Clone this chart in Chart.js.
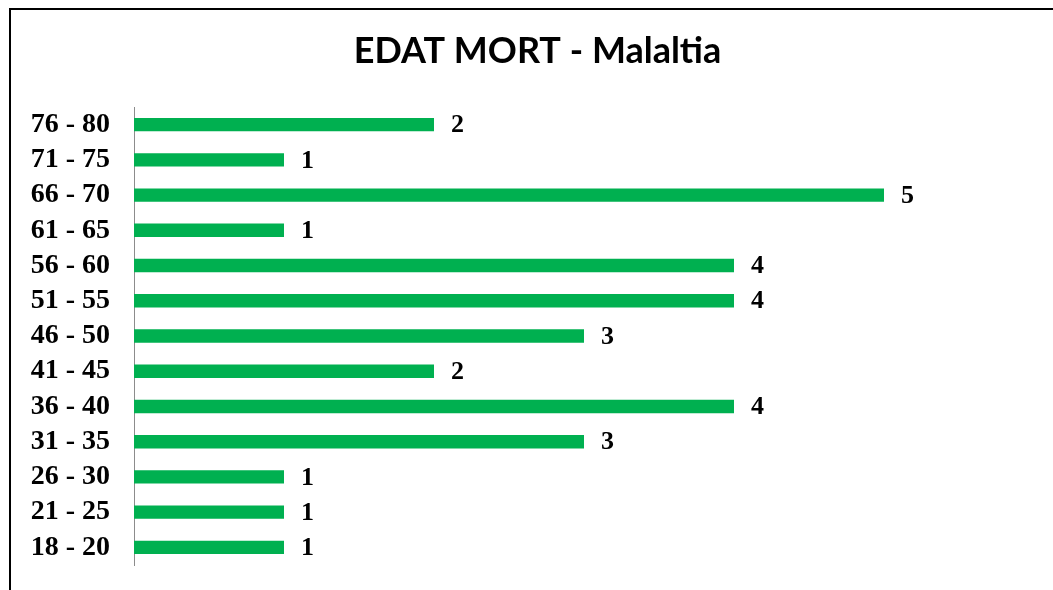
<!DOCTYPE html>
<html>
<head>
<meta charset="utf-8">
<script src="https://cdn.jsdelivr.net/npm/chart.js@4"></script>
<style>
html,body{margin:0;padding:0;background:#fff;}
#wrap{position:relative;width:1053px;height:590px;}
</style>
</head>
<body>
<div id="wrap"><canvas id="c" width="1053" height="590"></canvas></div>
<script>
const categories = ["76 - 80","71 - 75","66 - 70","61 - 65","56 - 60","51 - 55","46 - 50","41 - 45","36 - 40","31 - 35","26 - 30","21 - 25","18 - 20"];
const values = [2,1,5,1,4,4,3,2,4,3,1,1,1];
const titleText = "EDAT MORT - Malaltia";

const framePlugin = {
  id: 'frame',
  beforeDraw(chart) {
    const ctx = chart.ctx;
    ctx.save();
    ctx.fillStyle = '#fff';
    ctx.fillRect(0, 0, chart.width, chart.height);
    ctx.fillStyle = '#000';
    ctx.fillRect(9, 8, 2, chart.height - 8);
    ctx.fillRect(9, 8, chart.width - 9, 2);
    ctx.font = 'bold 36px Lato';
    ctx.textAlign = 'center';
    ctx.textBaseline = 'alphabetic';
    ctx.fillText(titleText, 537.5, 63);
    ctx.restore();
  }
};

const valueLabels = {
  id: 'valueLabels',
  afterDatasetsDraw(chart) {
    const ctx = chart.ctx;
    const meta = chart.getDatasetMeta(0);
    ctx.save();
    ctx.font = 'bold 26px "Liberation Serif"';
    ctx.fillStyle = '#000';
    ctx.textAlign = 'left';
    ctx.textBaseline = 'middle';
    meta.data.forEach((bar, i) => {
      ctx.fillText(String(values[i]), bar.x + 17, bar.y + 1);
    });
    ctx.restore();
  }
};

new Chart(document.getElementById('c'), {
  type: 'bar',
  data: {
    labels: categories,
    datasets: [{
      data: values,
      backgroundColor: '#00B050',
      borderWidth: 0,
      categoryPercentage: 1,
      barPercentage: 0.38
    }]
  },
  options: {
    indexAxis: 'y',
    responsive: false,
    animation: false,
    layout: { padding: { left: 12, right: 19, top: 107, bottom: 25 } },
    plugins: {
      legend: { display: false },
      tooltip: { enabled: false },
      title: { display: false }
    },
    scales: {
      x: { display: false, min: 0, max: 6 },
      y: {
        afterFit(scale) {
          scale.width = 122;
          scale.paddingTop = 0;
          scale.paddingBottom = 0;
        },
        grid: { display: false, drawTicks: false },
        border: { display: true, color: '#8c8c8c', width: 1 },
        ticks: {
          color: '#000',
          padding: 24,
          autoSkip: false,
          font: { family: 'Liberation Serif', size: 28, weight: 'bold' }
        }
      }
    }
  },
  plugins: [framePlugin, valueLabels]
});
</script>
</body>
</html>
